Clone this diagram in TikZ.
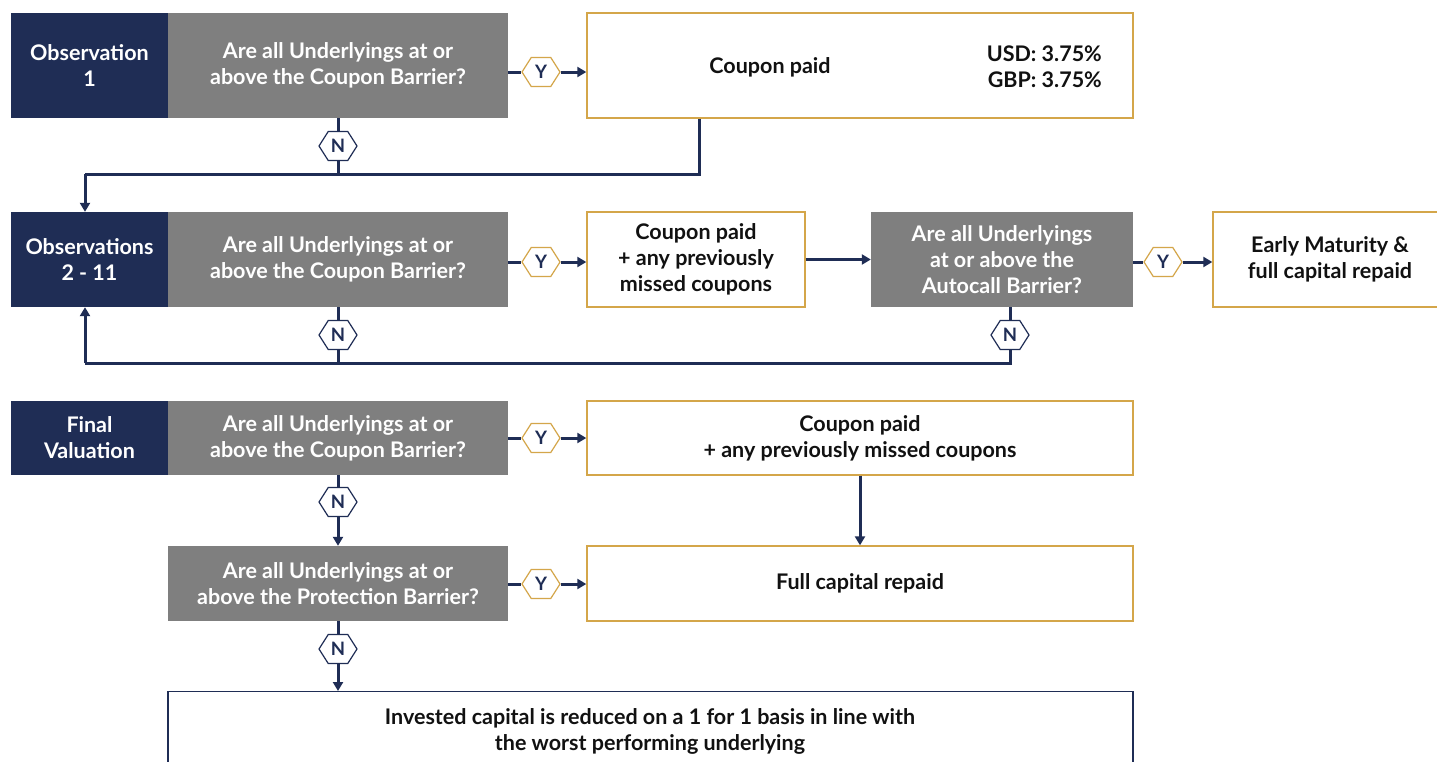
\documentclass[tikz,border=0pt]{standalone}
\usepackage{fontspec}
\setmainfont{Lato}
\usetikzlibrary{shapes.symbols,arrows.meta}
\definecolor{navy}{HTML}{1F2D55}
\definecolor{boxgray}{HTML}{7F7F7F}
\definecolor{gold}{HTML}{D4A64A}
\definecolor{ink}{HTML}{111111}
\begin{document}
\begin{tikzpicture}[x=1pt,y=-1pt,
  txt/.style={font=\fontsize{21.5}{26}\selectfont\bfseries, align=center, inner sep=0pt},
  obsbox/.style={txt, fill=navy, text=white, minimum width=157pt},
  qbox/.style={txt, fill=boxgray, text=white},
  resbox/.style={txt, draw=gold, line width=1.4pt, fill=white, text=ink},
  hexY/.style={signal, signal to=east and west, signal pointer angle=115, draw=gold, line width=1.2pt, fill=white,
     minimum width=38pt, minimum height=29pt, inner sep=0pt, text=navy, font=\fontsize{18.5}{18.5}\selectfont\bfseries},
  hexN/.style={hexY, draw=navy},
  conn/.style={draw=navy, line width=3pt},
  arr/.style={conn, -{Triangle[length=9pt,width=10pt]}}
]
\useasboundingbox (0,0) rectangle (1437,761);
\clip (0,0) rectangle (1437,761);
\fill[white] (0,0) rectangle (1437,761);

% Row 1
\node[obsbox, minimum height=105pt] (o1) at (89.5,65.5) {Observation\\1};
\node[qbox, minimum width=340pt, minimum height=105pt] (q1) at (338,65.5) {Are all Underlyings at or\\above the Coupon Barrier?};
\node[resbox, minimum width=546pt, minimum height=105pt] (c1) at (860,65.5) {};
\node[txt, text=ink] (c1t) at (770,67) {Coupon paid};
\node[txt, text=ink, align=right, anchor=east] (c1r) at (1102,67) {USD: 3.75\%\\GBP: 3.75\%};
\node[hexY] (y1) at (541,72) {Y};
\node[hexN] (n1) at (338,146) {N};

% Row 2
\node[obsbox, minimum height=95pt] (o2) at (89.5,259.5) {Observations\\2 - 11};
\node[qbox, minimum width=340pt, minimum height=95pt] (q2) at (338,259.5) {Are all Underlyings at or\\above the Coupon Barrier?};
\node[resbox, minimum width=218pt, minimum height=95pt] (c2) at (696,259.5) {Coupon paid\\+ any previously\\missed coupons};
\node[qbox, minimum width=262pt, minimum height=95pt] (a2) at (1002,259.5) {Are all Underlyings\\at or above the\\Autocall Barrier?};
\node[resbox, minimum width=234pt, minimum height=95pt] (e2) at (1330,259.5) {Early Maturity \&\\full capital repaid};
\node[hexY] (y2) at (541,262) {Y};
\node[hexY] (y3) at (1163,262) {Y};
\node[hexN] (n2) at (338,335) {N};
\node[hexN] (n3) at (1010,335) {N};

% Row 3
\node[obsbox, minimum height=74pt] (o3) at (89.5,438) {Final\\Valuation};
\node[qbox, minimum width=340pt, minimum height=74pt] (q3) at (338,438) {Are all Underlyings at or\\above the Coupon Barrier?};
\node[resbox, minimum width=546pt, minimum height=74pt] (c3) at (860,438) {Coupon paid\\+ any previously missed coupons};
\node[hexY] (y4) at (541,438) {Y};
\node[hexN] (n4) at (338,502) {N};

% Row 4
\node[qbox, minimum width=340pt, minimum height=75pt] (q4) at (338,583.5) {Are all Underlyings at or\\above the Protection Barrier?};
\node[resbox, minimum width=546pt, minimum height=75pt] (f4) at (860,583.5) {Full capital repaid};
\node[hexY] (y5) at (541,584) {Y};
\node[hexN] (n5) at (338,649) {N};

% Final
\node[txt, draw=navy, line width=1.4pt, fill=white, text=ink, minimum width=965pt, minimum height=90pt, anchor=north] (fin) at (650.5,691) {};
\node[txt, text=ink] (fint) at (650,731) {Invested capital is reduced on a 1 for 1 basis in line with\\the worst performing underlying};

% junction coordinates
\coordinate (j1a) at (699,174);
\coordinate (j1b) at (338,174);
\coordinate (j1c) at (85,174);
\coordinate (j2a) at (1010,363);
\coordinate (j2b) at (338,363);
\coordinate (j2c) at (85,363);

% connectors
\path[conn] (q1.east |- y1) -- (y1.west);
\draw[arr] (y1.east) -- (c1.west |- y1);
\path[conn] (q1.south) -- (n1.north);
\path[conn] (n1.south) -- (j1b);
\path[conn] (c1.south -| j1a) -- (j1a) -- (j1c);
\draw[arr] (j1c) -- (o2.north -| j1c);

\path[conn] (q2.east |- y2) -- (y2.west);
\draw[arr] (y2.east) -- (c2.west |- y2);
\draw[arr] (c2.east) -- (a2.west);
\path[conn] (a2.east |- y3) -- (y3.west);
\draw[arr] (y3.east) -- (e2.west |- y3);
\path[conn] (q2.south) -- (n2.north);
\path[conn] (n2.south) -- (j2b);
\path[conn] (a2.south -| n3) -- (n3.north);
\path[conn] (n3.south) -- (j2a) -- (j2c);
\draw[arr] (j2c) -- (o2.south -| j2c);

\path[conn] (q3.east |- y4) -- (y4.west);
\draw[arr] (y4.east) -- (c3.west |- y4);
\path[conn] (q3.south) -- (n4.north);
\draw[arr] (n4.south) -- (q4.north);
\draw[arr] (c3.south) -- (f4.north);

\path[conn] (q4.east |- y5) -- (y5.west);
\draw[arr] (y5.east) -- (f4.west |- y5);
\path[conn] (q4.south) -- (n5.north);
\draw[arr] (n5.south) -- (fin.north -| n5);
\end{tikzpicture}
\end{document}
